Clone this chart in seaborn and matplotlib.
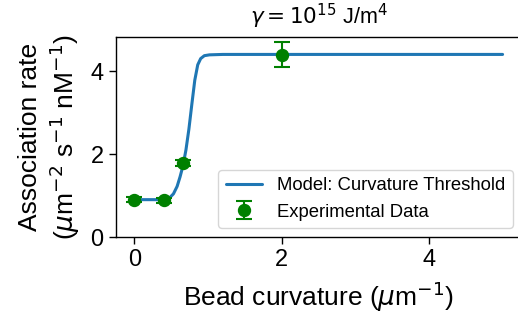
import numpy as np
import pandas as pd
import matplotlib
matplotlib.use("Agg")
import matplotlib.pyplot as plt
import seaborn as sns

# Model curve
model_x = [0.00, 0.40, 0.47, 0.53, 0.58, 0.62, 0.66, 0.70, 0.74, 0.78, 0.82, 0.86, 0.90, 0.95, 1.02, 1.20, 5.00]
model_y = [0.90, 0.90, 0.93, 1.04, 1.22, 1.45, 1.72, 2.10, 2.60, 3.20, 3.78, 4.15, 4.30, 4.37, 4.39, 4.40, 4.40]

# Experimental data
exp_x = [0.0, 0.40, 0.66, 2.0]
exp_y = [0.90, 0.89, 1.78, 4.39]
exp_err = [0.06, 0.06, 0.08, 0.30]

sns.set_theme(style="ticks")
plt.rcParams['font.family'] = ['Liberation Sans', 'DejaVu Sans']
plt.rcParams['mathtext.fontset'] = 'dejavusans'
for k in ['text.color', 'axes.labelcolor', 'xtick.color', 'ytick.color', 'axes.edgecolor']:
    plt.rcParams[k] = 'black'

fig = plt.figure(figsize=(5.18, 3.29), dpi=100)
W, H = 518, 329
left, right, top, bottom = 116, 521, 37, 237
ax = fig.add_axes([left / W, 1 - bottom / H, (right - left) / W, (bottom - top) / H])

df = pd.DataFrame({"x": model_x, "y": model_y})
sns.lineplot(data=df, x="x", y="y", ax=ax, color="#1f77b4", linewidth=2.2,
             label="Model: Curvature Threshold")
ax.errorbar(exp_x, exp_y, yerr=exp_err, fmt="o", color="green", markersize=8.6,
            capsize=5.8, elinewidth=1.5, capthick=1.5, label="Experimental Data", zorder=3)

ax.set_xlim(-0.25, 5.25)
ax.set_ylim(0, 4.82)
ax.set_xticks([0, 2, 4])
ax.set_yticks([0, 2, 4])
ax.tick_params(labelsize=17, length=5, width=1, pad=4)
for s in ax.spines.values():
    s.set_linewidth(1.0)
    s.set_color("black")

ax.set_xlabel(r"Bead curvature ($\mu$m$^{-1}$)", fontsize=19, labelpad=6)
ax.set_ylabel("Association rate\n" + r"($\mu$m$^{-2}$ s$^{-1}$ nM$^{-1}$)", fontsize=19, labelpad=6)
ax.set_title(r"$\gamma = 10^{15}$ J/m$^4$", fontsize=15.5, pad=9)

ax.legend(loc="lower right", fontsize=13.3, frameon=True, bbox_to_anchor=(0.98, 0.045),
          borderaxespad=0, borderpad=0.4, handlelength=2.0)

fig.savefig("out.png", dpi=100)
